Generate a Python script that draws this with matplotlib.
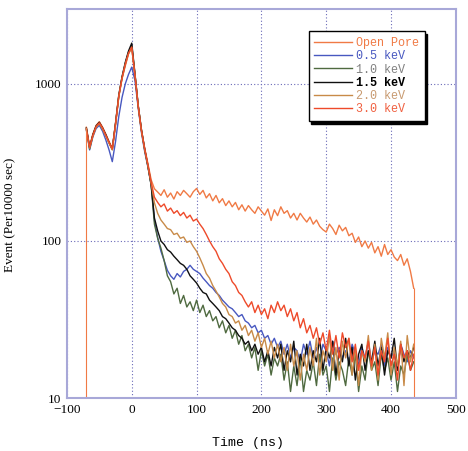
import numpy as np, matplotlib; matplotlib.use('Agg')
import matplotlib.pyplot as plt

# time axis (ns), 5 ns bins
t = list(range(-70, 440, 5))

open_pore = [530, 400, 480, 545, 575, 530, 480, 430, 390, 560,
             830, 1080, 1300, 1550, 1700, 1120, 720, 510, 390, 310,
             245, 215, 205, 195, 212, 190, 202, 185, 206, 195,
             210, 200, 190, 206, 216, 198, 210, 188, 200, 180,
             195, 175, 186, 168, 180, 165, 176, 158, 170, 155,
             168, 158, 150, 165, 155, 146, 160, 135, 158, 145,
             165, 150, 156, 140, 150, 136, 150, 140, 132, 142,
             128, 136, 124, 118, 114, 128, 120, 110, 126, 116,
             122, 108, 112, 98, 106, 92, 100, 90, 98, 84,
             92, 80, 95, 82, 88, 79, 75, 82, 70, 77,
             64, 50]
kev05 = [510, 380, 460, 520, 545, 500, 440, 380, 320, 430,
         620, 820, 1000, 1150, 1280, 1050, 700, 490, 370, 295,
         228, 135, 105, 86, 75, 65, 60, 57, 62, 59,
         64, 66, 70, 66, 64, 62, 58, 55, 52, 50,
         47, 45, 42, 40, 38, 37, 35, 33, 34, 31,
         30, 28, 29, 26, 27, 24, 25, 22, 24, 21,
         23, 19, 22, 18, 21, 20, 17, 22, 19, 23,
         18, 21, 17, 22, 20, 16, 23, 19, 21, 18,
         20, 17, 22, 19, 16, 21, 18, 23, 17, 20,
         19, 22, 16, 21, 18, 20, 15, 22, 19, 17,
         20, 18]
kev10 = [520, 385, 470, 535, 560, 520, 470, 420, 382, 555,
         835, 1100, 1350, 1590, 1760, 1150, 725, 505, 380, 298,
         225, 128, 104, 90, 75, 60, 55, 46, 50, 40,
         45, 38, 41, 36, 42, 35, 39, 33, 36, 31,
         33, 28, 31, 26, 29, 24, 27, 22, 25, 20,
         22, 18, 21, 15, 20, 16, 19, 14, 18, 16,
         19, 13, 17, 11, 16, 12, 18, 11, 15, 13,
         17, 12, 19, 14, 16, 11, 18, 13, 17, 15,
         12, 18, 14, 19, 11, 16, 13, 20, 15, 17,
         12, 19, 15, 18, 13, 17, 11, 16, 14, 19,
         15, 17]
kev15 = [525, 395, 475, 540, 570, 525, 475, 425, 385, 565,
         850, 1110, 1370, 1620, 1820, 1160, 730, 510, 385, 300,
         228, 140, 116, 100, 95, 88, 85, 80, 76, 72,
         70, 66, 60, 57, 54, 50, 47, 46, 42, 40,
         38, 36, 33, 32, 30, 28, 27, 25, 24, 22,
         23, 20, 22, 19, 21, 17, 20, 16, 21, 18,
         22, 15, 20, 17, 23, 14, 19, 16, 22, 15,
         20, 17, 24, 15, 21, 18, 23, 14, 20, 17,
         24, 16, 21, 13, 19, 22, 15, 20, 17, 23,
         16, 21, 14, 20, 18, 24, 15, 22, 17, 20,
         18, 21]
kev20 = [510, 390, 465, 530, 560, 515, 465, 420, 380, 550,
         830, 1080, 1330, 1560, 1700, 1140, 720, 500, 380, 300,
         232, 175, 150, 136, 128, 120, 118, 110, 112, 104,
         106, 98, 100, 92, 86, 78, 70, 62, 58, 52,
         48, 44, 40, 38, 34, 33, 30, 31, 27, 29,
         25, 27, 23, 26, 21, 24, 19, 23, 18, 22,
         17, 21, 15, 22, 16, 20, 13, 19, 15, 21,
         16, 24, 14, 20, 17, 25, 15, 21, 13, 23,
         18, 24, 14, 21, 12, 20, 17, 25, 15, 22,
         13, 24, 18, 26, 14, 21, 16, 23, 12, 25,
         17, 22]
kev30 = [515, 395, 470, 535, 565, 525, 470, 425, 385, 555,
         835, 1090, 1330, 1570, 1720, 1130, 720, 505, 385, 305,
         235, 190, 176, 165, 172, 155, 162, 150, 156, 145,
         152, 140, 146, 134, 138, 128, 120, 110, 100, 92,
         86, 77, 72, 66, 62, 55, 52, 47, 45, 41,
         38, 41, 35, 39, 34, 37, 32, 39, 35, 41,
         36, 39, 33, 37, 31, 35, 28, 32, 26, 29,
         24, 28, 22, 26, 20, 27, 19, 25, 18, 26,
         21, 24, 17, 22, 15, 20, 18, 23, 16, 21,
         14, 20, 17, 24, 16, 19, 13, 22, 18, 20,
         15, 19]

labels = ['Open Pore', '0.5 keV', '1.0 keV', '1.5 keV', '2.0 keV', '3.0 keV']
series = [open_pore, kev05, kev10, kev15, kev20, kev30]
colors = ['#f07a45', '#4858c0', '#4f6a40', '#101010', '#c88a48', '#ee4a2a']
text_colors = ['#f07a45', '#4858c0', '#808080', '#000000', '#c89a70', '#f06040']

fig = plt.figure(figsize=(4.68, 4.51), dpi=100)
ax = fig.add_axes([0.143, 0.1175, 0.831, 0.8625])

for y, lab, c in zip(series, labels, colors):
    ax.plot(t, y, color=c, lw=1.0, label=lab)
# open pore channel edges drop to zero
ax.vlines([t[0], t[-1]], 1, [open_pore[0], open_pore[-1]], color=colors[0], lw=0.8)

ax.set_yscale('log')
ax.set_xlim(-100, 500); ax.set_ylim(10, 3000)
ax.set_xticks([-100, 0, 100, 200, 300, 400, 500])
ax.set_xticklabels(['\u2212100', '0', '100', '200', '300', '400', '500'])
ax.set_yticks([10, 100, 1000]); ax.set_yticklabels(['10', '100', '1000'])
ax.yaxis.set_minor_locator(matplotlib.ticker.NullLocator())
ax.tick_params(length=0, labelsize=9.5, pad=4)
for lb in ax.get_xticklabels() + ax.get_yticklabels():
    lb.set_family('Liberation Serif')
ax.grid(True, ls=(0, (1, 2)), color='#6a6ab8', lw=0.8)
for s in ax.spines.values():
    s.set_color('#a8a8d8'); s.set_linewidth(1.5)

ax.set_xlabel('Time (ns)', family='Liberation Mono', fontsize=9.5)
ax.xaxis.set_label_coords(0.465, -0.1)
ax.set_ylabel('Event (Per10000 sec)', family='Liberation Serif', fontsize=9.5)
ax.yaxis.set_label_coords(-0.13, 0.47)

leg = ax.legend(loc='upper right', bbox_to_anchor=(0.935, 0.958), frameon=True, fancybox=False,
                shadow={'color': 'black', 'alpha': 1.0}, edgecolor='black', framealpha=1,
                prop={'family': 'Liberation Mono', 'size': 8.5}, handlelength=3.2,
                labelspacing=0.1, borderpad=0.5, handletextpad=0.3, labelcolor=text_colors)
leg.get_frame().set_linewidth(1.0)
leg.get_texts()[3].set_fontweight('bold')

fig.savefig('out.png', dpi=100)
